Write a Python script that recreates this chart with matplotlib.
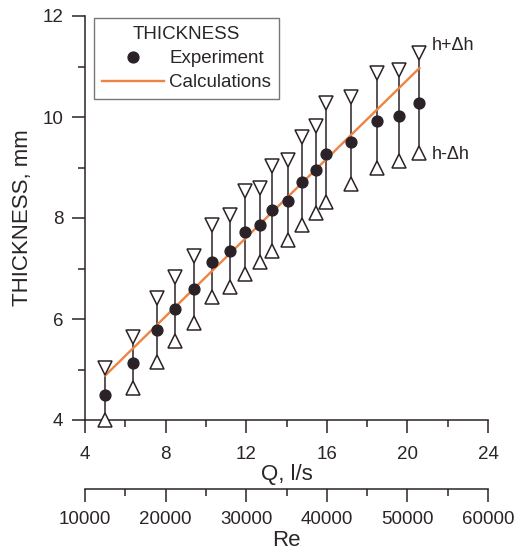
import matplotlib
matplotlib.use("Agg")
import matplotlib.pyplot as plt
from matplotlib.ticker import MultipleLocator
from matplotlib.lines import Line2D

plt.rcParams['font.family'] = ['Liberation Sans', 'DejaVu Sans']

# Flow rate (l/s) and measured film thickness (mm) with bounds
q = [5.0, 6.39, 7.58, 8.49, 9.40, 10.28, 11.19, 11.96, 12.67, 13.28,
     14.08, 14.79, 15.48, 15.97, 17.18, 18.48, 19.58, 20.57]
h = [4.50, 5.13, 5.78, 6.20, 6.59, 7.13, 7.34, 7.73, 7.86, 8.16,
     8.34, 8.72, 8.95, 9.27, 9.51, 9.93, 10.01, 10.28]
h_up = [5.03, 5.65, 6.41, 6.84, 7.25, 7.86, 8.06, 8.53, 8.59, 9.02,
        9.15, 9.61, 9.83, 10.27, 10.40, 10.88, 10.94, 11.27]
h_lo = [4.00, 4.63, 5.15, 5.56, 5.93, 6.44, 6.64, 6.90, 7.13, 7.35,
        7.56, 7.86, 8.09, 8.32, 8.67, 9.00, 9.12, 9.28]

# Calculated thickness
calc_q = [5.0, 20.6]
calc_h = [4.88, 10.97]

q_ticks = [4, 8, 12, 16, 20, 24]
h_ticks = [4, 6, 8, 10, 12]
re_ticks = [10000, 20000, 30000, 40000, 50000, 60000]

INK = '#2b2228'
ORANGE = '#ee8444'
TEXT = '#2a2528'
FS = 13.5
LFS = 16
DOT = 7.8

W, H = 517, 559
fig = plt.figure(figsize=(W / 100, H / 100), dpi=100)

L, R = 85, 488
T, B = 16, 420
ax = fig.add_axes([L / W, 1 - B / H, (R - L) / W, (B - T) / H])
ax.set_xlim(4, 24)
ax.set_ylim(4, 12)

for s in ['top', 'right']:
    ax.spines[s].set_visible(False)
for s in ['left', 'bottom']:
    ax.spines[s].set_color(INK)
    ax.spines[s].set_linewidth(1.1)

ax.set_xticks(q_ticks)
ax.set_yticks(h_ticks)
ax.xaxis.set_minor_locator(MultipleLocator(2))
ax.yaxis.set_minor_locator(MultipleLocator(1))
ax.tick_params(which='major', direction='out', length=9.5, width=1.1,
               color=INK, labelsize=FS, labelcolor=TEXT)
ax.tick_params(which='minor', direction='out', length=5, width=1.1, color=INK)
ax.tick_params(axis='x', which='major', pad=9)
ax.tick_params(axis='y', which='major', pad=6)

ax.set_xlabel('Q, l/s', fontsize=LFS, color=TEXT, labelpad=1)
ax.set_ylabel('THICKNESS, mm', fontsize=LFS, color=TEXT, labelpad=7)

# Error bars between bounds
for qi, lo, up in zip(q, h_lo, h_up):
    ax.plot([qi, qi], [lo, up], color=INK, lw=1.1, zorder=2, clip_on=False)

ax.plot(calc_q, calc_h, color=ORANGE, lw=1.7, zorder=3)

ax.plot(q, h_up, linestyle='none', marker='v', ms=9.5, mfc='white',
        mec=INK, mew=1.1, zorder=4, clip_on=False)
ax.plot(q, h_lo, linestyle='none', marker='^', ms=9.5, mfc='white',
        mec=INK, mew=1.1, zorder=4, clip_on=False)
ax.plot(q, h, linestyle='none', marker='o', ms=DOT, mfc=INK, mec=INK,
        zorder=5, clip_on=False)

ax.text(21.2, 11.42, 'h+\u0394h', fontsize=13, color=TEXT, va='center', ha='left')
ax.text(21.2, 9.25, 'h-\u0394h', fontsize=13, color=TEXT, va='center', ha='left')

handles = [
    Line2D([], [], linestyle='none', marker='o', ms=DOT, mfc=INK, mec=INK),
    Line2D([], [], color=ORANGE, lw=1.7),
]
leg = ax.legend(handles, ['Experiment', 'Calculations'], title='THICKNESS',
                loc='upper left', bbox_to_anchor=(0.022, 0.995),
                fontsize=FS, title_fontsize=FS, frameon=True, fancybox=False,
                handlelength=3.3, handletextpad=0.3, labelspacing=0.38,
                borderpad=0.42, borderaxespad=0)
leg.get_frame().set_edgecolor('#555555')
leg.get_frame().set_linewidth(1.0)
for t in leg.get_texts():
    t.set_color(TEXT)
leg.get_title().set_color(TEXT)

# Reynolds number scale below
RE_Y = 489
ax2 = fig.add_axes([L / W, 1 - RE_Y / H, (R - L) / W, 0.0001])
ax2.set_xlim(10000, 60000)
ax2.set_yticks([])
for s in ['top', 'right', 'left']:
    ax2.spines[s].set_visible(False)
ax2.spines['bottom'].set_color(INK)
ax2.spines['bottom'].set_linewidth(1.1)
ax2.patch.set_visible(False)
ax2.set_xticks(re_ticks)
ax2.xaxis.set_minor_locator(MultipleLocator(5000))
ax2.tick_params(which='major', direction='out', length=9, width=1.1,
                color=INK, labelsize=FS, labelcolor=TEXT, pad=7)
ax2.tick_params(which='minor', direction='out', length=5, width=1.1, color=INK)
ax2.set_xlabel('Re', fontsize=LFS, color=TEXT, labelpad=1)

fig.savefig('out.png', dpi=100)
